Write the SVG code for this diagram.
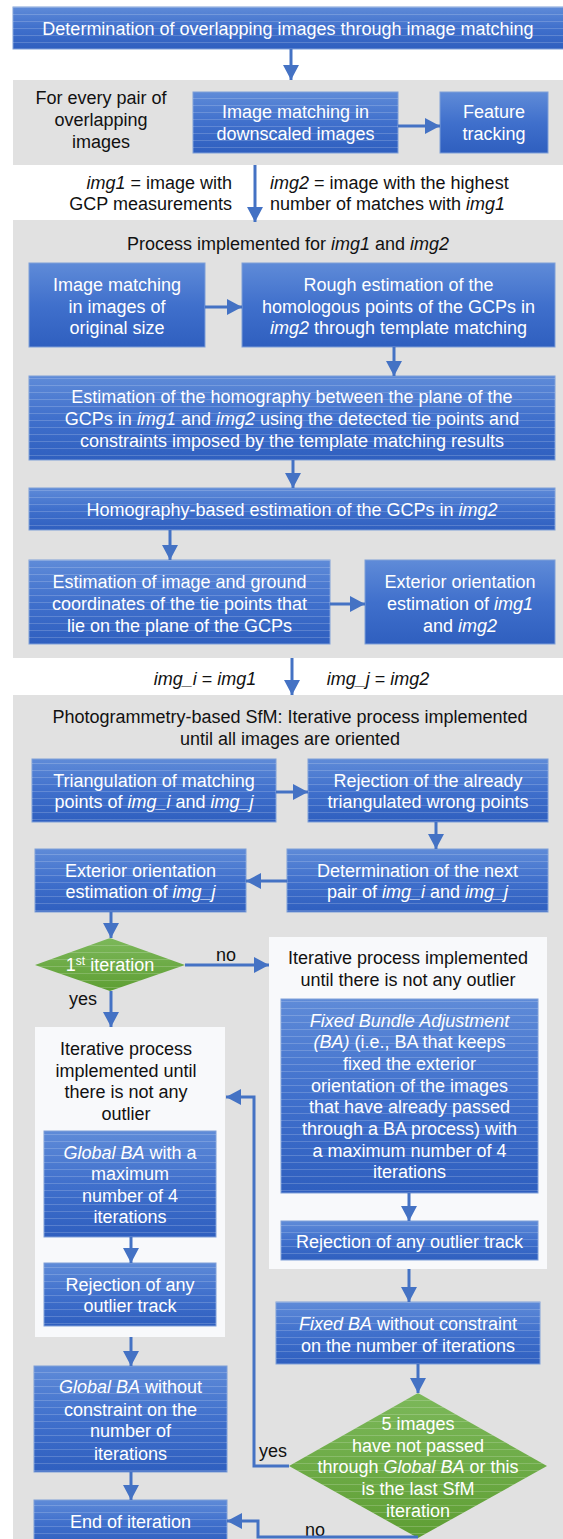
<svg xmlns="http://www.w3.org/2000/svg" width="563" height="1539" viewBox="0 0 563 1539">
<style>
text{font-family:"Liberation Sans",Arial,sans-serif;font-size:18px}
.w{fill:#ffffff;text-anchor:middle}
.k{fill:#111111;text-anchor:middle}
.i{font-style:italic}
.box{fill:url(#blue);stroke:#7f9fd8;stroke-width:1}
.st{fill:url(#stripes);stroke:none}
.panel{fill:#e1e1e1}
.wpanel{fill:#f8f9fb}
.dia{fill:url(#green);stroke:none}
.c{fill:none;stroke:#4472c4;stroke-width:3;marker-end:url(#ah)}
</style>
<defs>
<linearGradient id="blue" x1="0" y1="0" x2="0" y2="1">
<stop offset="0" stop-color="#5f8bd8"/>
<stop offset="0.5" stop-color="#4070cc"/>
<stop offset="1" stop-color="#2f5fbf"/>
</linearGradient>
<linearGradient id="green" x1="0" y1="0" x2="0" y2="1">
<stop offset="0" stop-color="#7cb85a"/>
<stop offset="1" stop-color="#5e9e33"/>
</linearGradient>
<pattern id="stripes" patternUnits="userSpaceOnUse" width="10" height="7">
<rect x="0" y="0" width="10" height="1" fill="#ffffff" fill-opacity="0.18"/>
</pattern>
<marker id="ah" markerUnits="userSpaceOnUse" markerWidth="16" markerHeight="16" refX="15" refY="8" orient="auto">
<path d="M0,0 L15,8 L0,16 z" fill="#4472c4"/>
</marker>
</defs>

<g id="panels">
<rect class="panel" x="13" y="80" width="550" height="85"/>
<rect class="panel" x="13" y="220" width="550" height="438"/>
<rect class="panel" x="13" y="695" width="550" height="844"/>
<rect class="wpanel" x="35" y="1027" width="190" height="310"/>
<rect class="wpanel" x="269" y="937" width="278" height="332"/>
</g>

<g id="labels">
<text class="k" x="101" y="104">For every pair of</text>
<text class="k" x="101" y="126">overlapping</text>
<text class="k" x="101" y="148">images</text>
<text x="232" y="189" fill="#111" text-anchor="end"><tspan class="i">img1</tspan> = image with</text>
<text x="232" y="210" fill="#111" text-anchor="end">GCP measurements</text>
<text x="270" y="189" fill="#111"><tspan class="i">img2</tspan> = image with the highest</text>
<text x="270" y="210" fill="#111">number of matches with <tspan class="i">img1</tspan></text>
<text class="k" x="288" y="249.5">Process implemented for <tspan class="i">img1</tspan> and <tspan class="i">img2</tspan></text>
<text class="k" x="205" y="685"><tspan class="i">img_i</tspan> = <tspan class="i">img1</tspan></text>
<text class="k" x="378" y="685"><tspan class="i">img_j</tspan> = <tspan class="i">img2</tspan></text>
<text class="k" x="290" y="722.5">Photogrammetry-based SfM: Iterative process implemented</text>
<text class="k" x="290" y="744.5">until all images are oriented</text>
<text class="k" x="226" y="961">no</text>
<text class="k" x="83" y="1005">yes</text>
<text class="k" x="408" y="964">Iterative process implemented</text>
<text class="k" x="408" y="986">until there is not any outlier</text>
<text class="k" x="126" y="1055">Iterative process</text>
<text class="k" x="126" y="1076.5">implemented until</text>
<text class="k" x="126" y="1098">there is not any</text>
<text class="k" x="126" y="1120">outlier</text>
<text class="k" x="273" y="1457">yes</text>
<text class="k" x="315" y="1536">no</text>
</g>

<g id="n_top">
<rect class="box" x="13" y="7" width="552" height="42"/>
<rect class="st" x="13" y="7" width="552" height="42"/>
<text class="w" x="288" y="34.5">Determination of overlapping images through image matching</text>
</g>

<g id="n_match_down">
<rect class="box" x="193" y="92" width="205" height="61"/>
<rect class="st" x="193" y="92" width="205" height="61"/>
<text class="w" x="295.5" y="118">Image matching in</text>
<text class="w" x="295.5" y="140">downscaled images</text>
</g>

<g id="n_feature">
<rect class="box" x="440" y="92" width="108" height="61"/>
<text class="w" x="494" y="118">Feature</text>
<text class="w" x="494" y="140">tracking</text>
</g>

<g id="n_match_orig">
<rect class="box" x="29" y="263" width="176" height="84"/>
<text class="w" x="117" y="290.5">Image matching</text>
<text class="w" x="117" y="312.5">in images of</text>
<text class="w" x="117" y="334">original size</text>
</g>

<g id="n_rough">
<rect class="box" x="242" y="263" width="313" height="84"/>
<text class="w" x="398.5" y="290.5">Rough estimation of the</text>
<text class="w" x="398.5" y="312.5">homologous points of the GCPs in</text>
<text class="w" x="398.5" y="334"><tspan class="i">img2</tspan> through template matching</text>
</g>

<g id="n_homography">
<rect class="box" x="29" y="376" width="526" height="84"/>
<rect class="st" x="29" y="376" width="526" height="84"/>
<text class="w" x="292" y="403">Estimation of the homography between the plane of the</text>
<text class="w" x="292" y="425">GCPs in <tspan class="i">img1</tspan> and <tspan class="i">img2</tspan> using the detected tie points and</text>
<text class="w" x="292" y="446.5">constraints imposed by the template matching results</text>
</g>

<g id="n_hbased">
<rect class="box" x="29" y="488" width="526" height="42"/>
<rect class="st" x="29" y="488" width="526" height="42"/>
<text class="w" x="292" y="516">Homography-based estimation of the GCPs in <tspan class="i">img2</tspan></text>
</g>

<g id="n_coords">
<rect class="box" x="29" y="560" width="301" height="84"/>
<rect class="st" x="29" y="560" width="301" height="84"/>
<text class="w" x="179.5" y="588">Estimation of image and ground</text>
<text class="w" x="179.5" y="610">coordinates of the tie points that</text>
<text class="w" x="179.5" y="631.5">lie on the plane of the GCPs</text>
</g>

<g id="n_eo12">
<rect class="box" x="365" y="560" width="190" height="84"/>
<text class="w" x="460" y="588">Exterior orientation</text>
<text class="w" x="460" y="610">estimation of <tspan class="i">img1</tspan></text>
<text class="w" x="460" y="631.5">and <tspan class="i">img2</tspan></text>
</g>

<g id="n_triang">
<rect class="box" x="32" y="759" width="244" height="63"/>
<rect class="st" x="32" y="759" width="244" height="63"/>
<text class="w" x="154" y="786.5">Triangulation of matching</text>
<text class="w" x="154" y="808">points of <tspan class="i">img_i</tspan> and <tspan class="i">img_j</tspan></text>
</g>

<g id="n_reject_wrong">
<rect class="box" x="308" y="759" width="240" height="63"/>
<rect class="st" x="308" y="759" width="240" height="63"/>
<text class="w" x="428" y="786.5">Rejection of the already</text>
<text class="w" x="428" y="808">triangulated wrong points</text>
</g>

<g id="n_nextpair">
<rect class="box" x="287" y="849" width="261" height="63"/>
<rect class="st" x="287" y="849" width="261" height="63"/>
<text class="w" x="417.5" y="876.5">Determination of the next</text>
<text class="w" x="417.5" y="898">pair of <tspan class="i">img_i</tspan> and <tspan class="i">img_j</tspan></text>
</g>

<g id="n_eoj">
<rect class="box" x="35" y="849" width="211" height="63"/>
<rect class="st" x="35" y="849" width="211" height="63"/>
<text class="w" x="140.5" y="876.5">Exterior orientation</text>
<text class="w" x="140.5" y="898">estimation of <tspan class="i">img_j</tspan></text>
</g>

<g id="n_first">
<polygon class="dia" points="110,938 185,965 110,991 35,965"/>
<polygon class="st" points="110,938 185,965 110,991 35,965"/>
<text class="w" x="110" y="971">1<tspan font-size="12" dy="-6">st</tspan><tspan dy="6"> iteration</tspan></text>
</g>

<g id="n_fixedba">
<rect class="box" x="281" y="999" width="257" height="194"/>
<rect class="st" x="281" y="999" width="257" height="194"/>
<text class="w" x="409.5" y="1026.5"><tspan class="i">Fixed Bundle Adjustment</tspan></text>
<text class="w" x="409.5" y="1048.2"><tspan class="i">(BA)</tspan> (i.e., BA that keeps</text>
<text class="w" x="409.5" y="1069.9">fixed the exterior</text>
<text class="w" x="409.5" y="1091.6">orientation of the images</text>
<text class="w" x="409.5" y="1113.3">that have already passed</text>
<text class="w" x="409.5" y="1135">through a BA process) with</text>
<text class="w" x="409.5" y="1156.7">a maximum number of 4</text>
<text class="w" x="409.5" y="1178.4">iterations</text>
</g>

<g id="n_reject_r">
<rect class="box" x="281" y="1221" width="257" height="39"/>
<rect class="st" x="281" y="1221" width="257" height="39"/>
<text class="w" x="409.5" y="1248">Rejection of any outlier track</text>
</g>

<g id="n_fixedba_free">
<rect class="box" x="276" y="1302" width="264" height="62"/>
<rect class="st" x="276" y="1302" width="264" height="62"/>
<text class="w" x="408" y="1330"><tspan class="i">Fixed BA</tspan> without constraint</text>
<text class="w" x="408" y="1351.5">on the number of iterations</text>
</g>

<g id="n_globalba">
<rect class="box" x="44" y="1131" width="172" height="106"/>
<rect class="st" x="44" y="1131" width="172" height="106"/>
<text class="w" x="130" y="1158.5"><tspan class="i">Global BA</tspan> with a</text>
<text class="w" x="130" y="1180">maximum</text>
<text class="w" x="130" y="1201.5">number of 4</text>
<text class="w" x="130" y="1223">iterations</text>
</g>

<g id="n_reject_l">
<rect class="box" x="44" y="1263" width="172" height="63"/>
<rect class="st" x="44" y="1263" width="172" height="63"/>
<text class="w" x="130" y="1291">Rejection of any</text>
<text class="w" x="130" y="1312">outlier track</text>
</g>

<g id="n_globalba_free">
<rect class="box" x="34" y="1366" width="193" height="106"/>
<rect class="st" x="34" y="1366" width="193" height="106"/>
<text class="w" x="130.5" y="1393"><tspan class="i">Global BA</tspan> without</text>
<text class="w" x="130.5" y="1415.5">constraint on the</text>
<text class="w" x="130.5" y="1437">number of</text>
<text class="w" x="130.5" y="1459.5">iterations</text>
</g>

<g id="n_end">
<rect class="box" x="34" y="1500" width="193" height="45"/>
<rect class="st" x="34" y="1500" width="193" height="45"/>
<text class="w" x="130.5" y="1528">End of iteration</text>
</g>

<g id="n_five">
<polygon class="dia" points="418,1393 547,1466 418,1538 289,1466"/>
<polygon class="st" points="418,1393 547,1466 418,1538 289,1466"/>
<text class="w" x="418" y="1430">5 images</text>
<text class="w" x="418" y="1451.5">have not passed</text>
<text class="w" x="418" y="1473">through <tspan class="i">Global BA</tspan> or this</text>
<text class="w" x="418" y="1495">is the last SfM</text>
<text class="w" x="418" y="1516.5">iteration</text>
</g>

<g id="connectors">
<path class="c" d="M291,49 V80"/>
<path class="c" d="M398,126 H440"/>
<path class="c" d="M255,165 V222"/>
<path class="c" d="M205,307 H242"/>
<path class="c" d="M394,347 V376"/>
<path class="c" d="M293,460 V488"/>
<path class="c" d="M170,530 V560"/>
<path class="c" d="M330,604 H365"/>
<path class="c" d="M292,658 V695"/>
<path class="c" d="M276,792 H308"/>
<path class="c" d="M436,822 V849"/>
<path class="c" d="M287,881 H246"/>
<path class="c" d="M111,912 V938"/>
<path class="c" d="M185,965 H269"/>
<path class="c" d="M111,991 V1027"/>
<path class="c" d="M131,1237 V1263"/>
<path class="c" d="M409,1193 V1221"/>
<path class="c" d="M409,1269 V1302"/>
<path class="c" d="M418,1364 V1393"/>
<path class="c" d="M131,1337 V1366"/>
<path class="c" d="M131,1472 V1500"/>
<path class="c" d="M289,1466 H254 V1097 H226"/>
<path class="c" d="M418,1537 H258 V1521 H227"/>
</g>
</svg>
